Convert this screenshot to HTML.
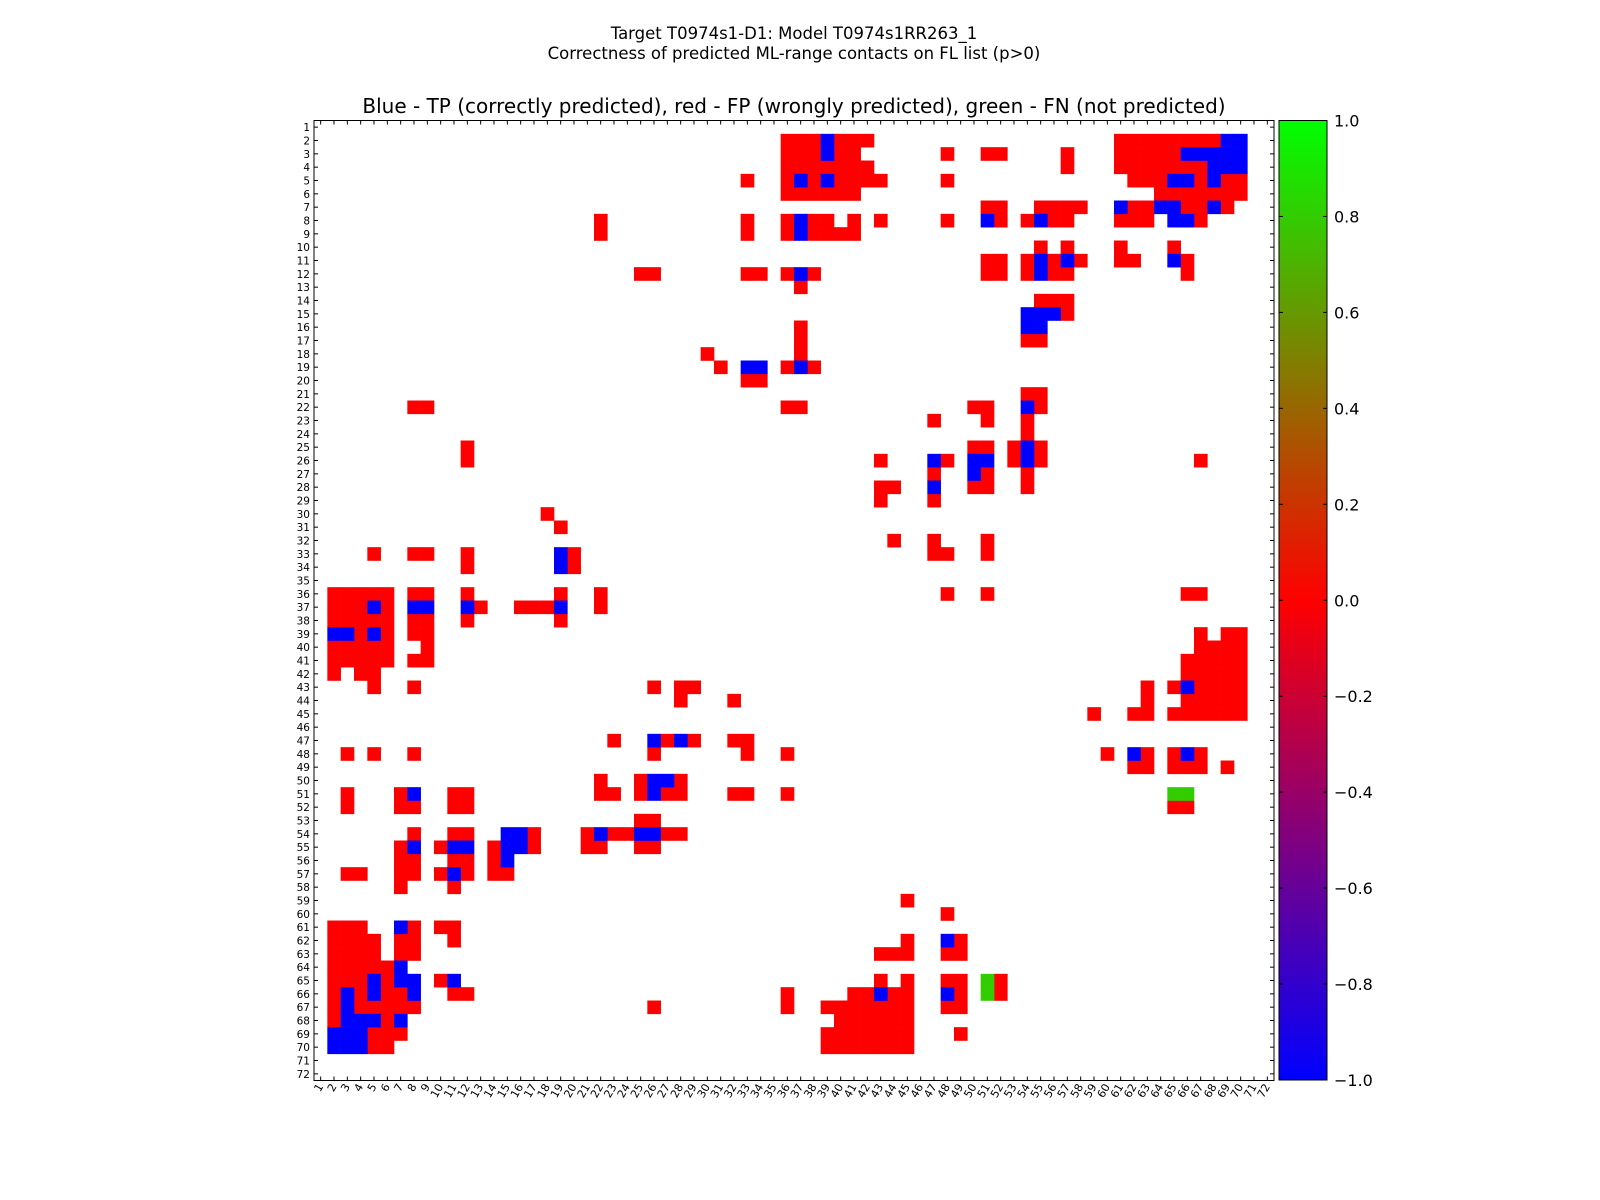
<!DOCTYPE html>
<html><head><meta charset="utf-8"><style>
html,body{margin:0;padding:0;background:#fff;}
svg{display:block;font-family:"DejaVu Sans","Liberation Sans",sans-serif;}
</style></head>
<body>
<svg id="chart" width="1600" height="1200" viewBox="0 0 1600 1200" xmlns="http://www.w3.org/2000/svg">
<defs>
<linearGradient id="cbgrad" x1="0" y1="1" x2="0" y2="0">
<stop offset="0" stop-color="#0000ff"/>
<stop offset="0.5" stop-color="#ff0000"/>
<stop offset="1" stop-color="#00ff00"/>
</linearGradient>
</defs>
<rect width="1600" height="1200" fill="#fff"/>
<text x="794" y="39" font-size="16.5" text-anchor="middle">Target T0974s1-D1: Model T0974s1RR263_1</text>
<text x="794" y="59" font-size="16.5" text-anchor="middle">Correctness of predicted ML-range contacts on FL list (p&gt;0)</text>
<text x="794" y="113" font-size="20" text-anchor="middle">Blue - TP (correctly predicted), red - FP (wrongly predicted), green - FN (not predicted)</text>
<g id="cells"></g>
<g id="axes"></g>
<g id="colorbar">
<rect x="1279" y="120.5" width="48" height="959.5" fill="url(#cbgrad)" stroke="#000" stroke-width="1"/>
</g>
</svg>
<script>
const N = 72;
const tpRuns = [[2,39,39],[2,69,70],[3,39,39],[3,66,70],[4,68,70],[5,37,37],[5,39,39],[5,65,66],[5,68,68],[7,61,61],[7,64,65],[7,68,68],[8,37,37],[8,51,51],[8,55,55],[8,65,66],[9,37,37],[11,55,55],[11,57,57],[11,65,65],[12,37,37],[12,55,55],[15,54,56],[16,54,55],[19,33,34],[19,37,37],[22,54,54],[25,54,54],[26,47,47],[26,50,51],[26,54,54],[27,50,50],[28,47,47],[33,19,19],[34,19,19],[37,5,5],[37,8,9],[37,12,12],[37,19,19],[39,2,3],[39,5,5],[43,66,66],[47,26,26],[47,28,28],[48,62,62],[48,66,66],[50,26,27],[51,8,8],[51,26,26],[54,15,16],[54,22,22],[54,25,26],[55,8,8],[55,11,12],[55,15,16],[56,15,15],[57,11,11],[61,7,7],[62,48,48],[64,7,7],[65,5,5],[65,7,8],[65,11,11],[66,3,3],[66,5,5],[66,8,8],[66,43,43],[66,48,48],[67,3,3],[68,3,5],[68,7,7],[69,2,4],[70,2,4]];
const fpRuns = [[2,36,38],[2,40,42],[2,61,68],[3,36,38],[3,40,41],[3,48,48],[3,51,52],[3,57,57],[3,61,65],[4,36,42],[4,57,57],[4,61,67],[5,33,33],[5,36,36],[5,38,38],[5,40,43],[5,48,48],[5,62,64],[5,67,67],[5,69,70],[6,36,41],[6,64,70],[7,51,52],[7,55,58],[7,62,63],[7,66,67],[7,69,69],[8,22,22],[8,33,33],[8,36,36],[8,38,39],[8,41,41],[8,43,43],[8,48,48],[8,52,52],[8,54,54],[8,56,57],[8,61,63],[8,67,67],[9,22,22],[9,33,33],[9,36,36],[9,38,41],[10,55,55],[10,57,57],[10,61,61],[10,65,65],[11,51,52],[11,54,54],[11,56,56],[11,58,58],[11,61,62],[11,66,66],[12,25,26],[12,33,34],[12,36,36],[12,38,38],[12,51,52],[12,54,54],[12,56,57],[12,66,66],[13,37,37],[14,55,57],[15,57,57],[16,37,37],[17,37,37],[17,54,55],[18,30,30],[18,37,37],[19,31,31],[19,36,36],[19,38,38],[20,33,34],[21,54,55],[22,8,9],[22,36,37],[22,50,51],[22,55,55],[23,47,47],[23,51,51],[23,54,54],[24,54,54],[25,12,12],[25,50,51],[25,53,53],[25,55,55],[26,12,12],[26,43,43],[26,48,48],[26,53,53],[26,55,55],[26,67,67],[27,47,47],[27,51,51],[27,54,54],[28,43,44],[28,50,51],[28,54,54],[29,43,43],[29,47,47],[30,18,18],[31,19,19],[32,44,44],[32,47,47],[32,51,51],[33,5,5],[33,8,9],[33,12,12],[33,20,20],[33,47,48],[33,51,51],[34,12,12],[34,20,20],[36,2,6],[36,8,9],[36,12,12],[36,19,19],[36,22,22],[36,48,48],[36,51,51],[36,66,67],[37,2,4],[37,6,6],[37,13,13],[37,16,18],[37,22,22],[38,2,6],[38,8,9],[38,12,12],[38,19,19],[39,4,4],[39,6,6],[39,8,9],[39,67,67],[39,69,70],[40,2,6],[40,9,9],[40,67,70],[41,2,6],[41,8,9],[41,66,70],[42,2,2],[42,4,5],[42,66,70],[43,5,5],[43,8,8],[43,26,26],[43,28,29],[43,63,63],[43,65,65],[43,67,70],[44,28,28],[44,32,32],[44,63,63],[44,66,70],[45,59,59],[45,62,63],[45,65,70],[47,23,23],[47,27,27],[47,29,29],[47,32,33],[48,3,3],[48,5,5],[48,8,8],[48,26,26],[48,33,33],[48,36,36],[48,60,60],[48,63,63],[48,65,65],[48,67,67],[49,62,63],[49,65,67],[49,69,69],[50,22,22],[50,25,25],[50,28,28],[51,3,3],[51,7,7],[51,11,12],[51,22,23],[51,25,25],[51,27,28],[51,32,33],[51,36,36],[52,3,3],[52,7,8],[52,11,12],[52,65,66],[53,25,26],[54,8,8],[54,11,12],[54,17,17],[54,21,21],[54,23,24],[54,27,28],[55,7,7],[55,10,10],[55,14,14],[55,17,17],[55,21,22],[55,25,26],[56,7,8],[56,11,12],[56,14,14],[57,3,4],[57,7,8],[57,10,10],[57,12,12],[57,14,15],[58,7,7],[58,11,11],[59,45,45],[60,48,48],[61,2,4],[61,8,8],[61,10,11],[62,2,5],[62,7,8],[62,11,11],[62,45,45],[62,49,49],[63,2,5],[63,7,8],[63,43,45],[63,48,49],[64,2,6],[65,2,4],[65,6,6],[65,10,10],[65,43,43],[65,45,45],[65,48,49],[65,52,52],[66,2,2],[66,4,4],[66,6,7],[66,11,12],[66,36,36],[66,41,42],[66,44,45],[66,49,49],[66,52,52],[67,2,2],[67,4,8],[67,26,26],[67,36,36],[67,39,45],[67,48,49],[68,2,2],[68,6,6],[68,40,45],[69,5,7],[69,39,45],[69,49,49],[70,5,6],[70,39,45]];
const fnRuns = [[51,65,66],[65,51,51],[66,51,51]];
const cbTicks = [1.0,0.8,0.6,0.4,0.2,0.0,-0.2,-0.4,-0.6,-0.8,-1.0];

const NS = "http://www.w3.org/2000/svg";
const L = 314, T = 120.5, S = 960, CW = S / N;
function xPos(c){ return L + (c - 1) * CW; }
function yPos(r){ return T + (r - 1) * CW; }
function cbY(v){ return 120.5 + (1 - v) / 2 * 959.5; }
function mk(tag, attrs, parent){ const e = document.createElementNS(NS, tag); for (const k in attrs) e.setAttribute(k, attrs[k]); parent.appendChild(e); return e; }

const cells = document.getElementById('cells');
function drawRuns(runs, color, name){
  runs.forEach(function(run){
    for (let c = run[1]; c <= run[2]; c++){
      const r = mk('rect', {x: xPos(c).toFixed(2), y: yPos(run[0]).toFixed(2), width: (CW + 0.3).toFixed(2), height: (CW + 0.3).toFixed(2), fill: color}, cells);
      
      
    }
  });
}
drawRuns(fpRuns, '#ff0000', 'fp-cell');
drawRuns(tpRuns, '#0000ff', 'tp-cell');
drawRuns(fnRuns, '#33cc00', 'fn-cell');

const axes = document.getElementById('axes');
const frame = mk('rect', {x: L, y: T, width: S, height: S, fill: 'none', stroke: '#000', 'stroke-width': 1}, axes);


for (let i = 1; i <= N; i++){
  const cx = L + (i - 0.5) * CW, cy = T + (i - 0.5) * CW;
  mk('line', {x1: cx, y1: T, x2: cx, y2: T + 4, stroke: '#000', 'stroke-width': 1}, axes);
  mk('line', {x1: cx, y1: T + S, x2: cx, y2: T + S - 4, stroke: '#000', 'stroke-width': 1}, axes);
  mk('line', {x1: L, y1: cy, x2: L + 4, y2: cy, stroke: '#000', 'stroke-width': 1}, axes);
  mk('line', {x1: L + S, y1: cy, x2: L + S - 4, y2: cy, stroke: '#000', 'stroke-width': 1}, axes);
  const yl = mk('text', {x: L - 4, y: cy + 4, 'font-size': 10.5, 'text-anchor': 'end'}, axes);
  yl.textContent = i;
  
  
  const xl = mk('text', {x: 0, y: 0, 'font-size': 11, 'text-anchor': 'end', transform: 'translate(' + (cx + 3) + ',' + (T + S + 6) + ') rotate(-60)'}, axes);
  xl.textContent = i;
  
  
}

const cb = document.getElementById('colorbar');
cbTicks.forEach(function(v){
  const y = cbY(v);
  mk('line', {x1: 1327, y1: y, x2: 1323, y2: y, stroke: '#000', 'stroke-width': 1}, cb);
  mk('line', {x1: 1279, y1: y, x2: 1283, y2: y, stroke: '#000', 'stroke-width': 1}, cb);
  const t = mk('text', {x: 1334, y: y + 6, 'font-size': 16}, cb);
  t.textContent = (v < 0 ? '\u2212' : '') + Math.abs(v).toFixed(1);
  
  
});
</script>
</body></html>
